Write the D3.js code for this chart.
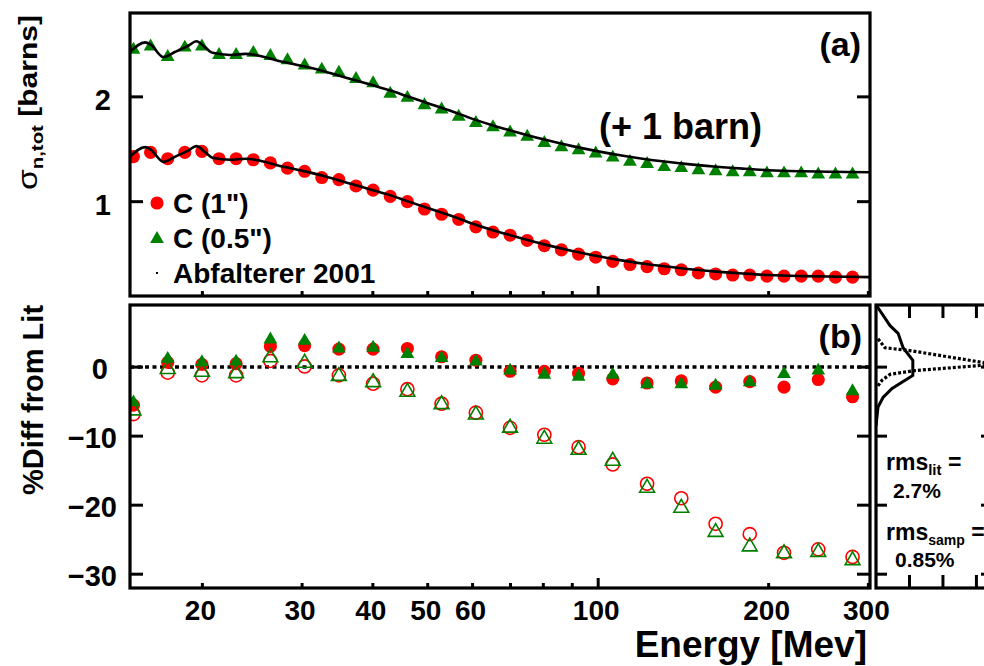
<!DOCTYPE html>
<html><head><meta charset="utf-8">
<script src="https://cdn.jsdelivr.net/npm/d3@7"></script>
<style>
body{margin:0;background:#fff}
svg{display:block}
text{font-family:"Liberation Sans",Arial,Helvetica,sans-serif;font-weight:bold;fill:#000}
</style>
</head><body>
<svg id="chart" width="984" height="666"></svg>
<script>
// ---------- DATA ----------
const energies = [15.11,16.20,17.37,18.62,19.96,21.40,22.94,24.60,26.37,28.27,30.31,32.50,34.84,37.35,40.04,42.93,46.03,49.34,52.90,56.72,60.81,65.19,69.89,74.93,80.33,86.12,92.33,98.99,106.1,113.8,122.0,130.8,140.2,150.3,161.2,172.8,185.2,198.6,212.9,228.3,244.7,262.4,281.3];
const sigmaC1 = [1.43,1.47,1.41,1.47,1.48,1.41,1.41,1.40,1.37,1.32,1.29,1.23,1.21,1.15,1.11,1.05,1.00,0.93,0.88,0.83,0.76,0.71,0.68,0.63,0.58,0.54,0.50,0.47,0.43,0.40,0.38,0.36,0.35,0.32,0.31,0.30,0.30,0.29,0.29,0.29,0.29,0.28,0.28];
const sigmaC05 = [1.45,1.48,1.38,1.47,1.48,1.40,1.40,1.42,1.39,1.35,1.30,1.26,1.23,1.17,1.13,1.03,0.99,0.92,0.88,0.81,0.75,0.71,0.66,0.62,0.56,0.52,0.49,0.46,0.42,0.38,0.36,0.33,0.32,0.30,0.29,0.28,0.28,0.27,0.27,0.27,0.26,0.26,0.26];
const offsetC05 = 1; // (+ 1 barn)
const litE = [14.9,15.86,16.19,17.07,17.92,18.91,19.51,20.25,20.83,22.40,23.82,25.32,27,30,33,36,40,43,46,50,55,60,65,70,80,90,100,110,125,140,160,180,200,230,260,302];
const litSigma = [1.43,1.52,1.50,1.38,1.43,1.49,1.53,1.47,1.42,1.40,1.41,1.39,1.35,1.295,1.24,1.18,1.11,1.06,1.005,0.94,0.865,0.79,0.73,0.68,0.595,0.53,0.48,0.44,0.395,0.365,0.335,0.315,0.30,0.29,0.285,0.28];

const diffE = [15.11,17.37,19.96,22.94,26.37,30.31,34.84,40.04,46.03,52.90,60.81,69.89,80.33,92.33,106.1,122.0,140.2,161.2,185.2,212.9,244.7,281.3];
const diffC1 = [-5.5,0.7,0.4,0.5,3.0,3.1,2.6,2.6,2.7,1.5,1.0,-0.6,-0.6,-0.9,-1.7,-2.3,-2.0,-2.9,-2.1,-2.9,-1.8,-4.3];
const diffC05 = [-5.1,1.2,0.7,0.8,4.0,3.8,2.7,2.8,1.9,1.3,0.8,-0.5,-1.1,-1.4,-1.1,-2.5,-2.5,-2.7,-2.2,-1.0,-0.5,-3.5];
const diffC1open = [-6.8,-0.8,-1.2,-1.2,0.9,0.1,-1.2,-2.4,-3.2,-5.3,-6.6,-8.8,-9.8,-11.6,-14.1,-16.9,-19.0,-22.7,-24.2,-26.9,-26.4,-27.5];
const diffC05open = [-6.3,-0.3,-0.7,-0.9,1.4,0.6,-1.3,-2.2,-3.6,-5.4,-6.9,-8.8,-10.4,-12.0,-13.6,-17.5,-20.4,-23.9,-26.0,-27.0,-26.8,-28.0];

const histLitPct = [9.0,8.6,6.0,4.9,2.8,1.0,-1.2,-1.9,-3.1,-4.4,-5.8,-8.5];
const histLitCount = [0.0,0.06,0.42,0.66,0.81,1.10,1.10,0.87,0.48,0.21,0.06,0.0];
const histSampPct = [4.1,2.8,2.4,0.7,0.45,0.25,-0.5,-1.05,-1.9,-2.9];
const histSampCount = [0.06,0.27,1.01,3.16,3.45,3.16,1.16,0.42,0.18,0.03];

const xTickLabels = [20,30,40,50,60,100,200,300];
const xMinorTicks = [20,30,40,50,60,70,80,90,200,300];
const xMajorTicks = [100];
const yTopTicks = [1,2];
const yBotTicks = [0,-10,-20,-30];
const histTicks = [1,2,3];

// ---------- LAYOUT ----------
const svg = d3.select("#chart");
const L = 130, R = 870;
const topP = {t:13, b:296};
const botP = {t:305, b:588};
const hist = {l:876, r:992};

const x = d3.scaleLog().domain([14.9, 302]).range([L, R]);
const yT = d3.scaleLinear().domain([0.1, 2.8]).range([topP.b, topP.t]);
const yB = d3.scaleLinear().domain([-32, 9]).range([botP.b, botP.t]);
const xH = d3.scaleLinear().domain([0, 3.465]).range([hist.l, hist.r]);

const red = "#ff0000", green = "#008000";

const defs = svg.append("defs");
defs.append("clipPath").attr("id","clipT").append("rect").attr("x",L).attr("y",topP.t).attr("width",R-L).attr("height",topP.b-topP.t);
defs.append("clipPath").attr("id","clipB").append("rect").attr("x",L).attr("y",botP.t).attr("width",R-L).attr("height",botP.b-botP.t);
defs.append("clipPath").attr("id","clipH").append("rect").attr("x",hist.l).attr("y",botP.t).attr("width",hist.r-hist.l).attr("height",botP.b-botP.t);

const circ = d3.symbol().type(d3.symbolCircle).size(135);
const tri = d3.symbol().type(d3.symbolTriangle).size(82);
const triOpen = d3.symbol().type(d3.symbolTriangle).size(95);

// ---------- TOP PANEL ----------
const gT = svg.append("g").attr("clip-path","url(#clipT)");
gT.selectAll(".c1").data(energies).join("path")
  .attr("d", circ).attr("fill", red)
  .attr("transform",(d,i)=>`translate(${x(d)},${yT(sigmaC1[i])})`);
gT.selectAll(".c05").data(energies).join("path")
  .attr("d", tri).attr("fill", green)
  .attr("transform",(d,i)=>`translate(${x(d)},${yT(sigmaC05[i]+offsetC05)})`);
const litLine = (off)=>d3.line().curve(d3.curveMonotoneX)
  .x((d,i)=>x(litE[i])).y((d,i)=>yT(litSigma[i]+off));
gT.append("path").attr("d", litLine(0)(litE)).attr("fill","none").attr("stroke","#000").attr("stroke-width",2.6);
gT.append("path").attr("d", litLine(offsetC05)(litE)).attr("fill","none").attr("stroke","#000").attr("stroke-width",2.6);

// axes top
const axT = svg.append("g");
axT.selectAll(".yt").data(yTopTicks).join("g").each(function(v){
  const g=d3.select(this);
  g.append("line").attr("x1",L).attr("x2",L+13).attr("y1",yT(v)).attr("y2",yT(v)).attr("stroke","#000").attr("stroke-width",3);
  g.append("line").attr("x1",R-13).attr("x2",R).attr("y1",yT(v)).attr("y2",yT(v)).attr("stroke","#000").attr("stroke-width",3);
  g.append("text").attr("x",111).attr("y",yT(v)+13).attr("text-anchor","end").style("font-size","29px").text(v);
});
function xTicksAt(g, yb){
  g.selectAll(".mn").data(xMinorTicks).join("line").attr("x1",d=>x(d)).attr("x2",d=>x(d))
    .attr("y1",yb-5).attr("y2",yb).attr("stroke","#000").attr("stroke-width",3);
  g.selectAll(".mj").data(xMajorTicks).join("line").attr("x1",d=>x(d)).attr("x2",d=>x(d))
    .attr("y1",yb-10).attr("y2",yb).attr("stroke","#000").attr("stroke-width",3);
}
xTicksAt(axT.append("g"), topP.b);
svg.append("rect").attr("x",L).attr("y",topP.t).attr("width",R-L).attr("height",topP.b-topP.t)
  .attr("fill","none").attr("stroke","#000").attr("stroke-width",3.2);

// legend
const lg = svg.append("g");
lg.append("path").attr("d",circ).attr("fill",red).attr("transform","translate(157,203)");
lg.append("path").attr("d",tri).attr("fill",green).attr("transform","translate(157,239)");
lg.append("rect").attr("x",156).attr("y",272).attr("width",2).attr("height",2).attr("fill","#000");
lg.append("text").attr("x",173).attr("y",213).style("font-size","28px").text('C (1")');
lg.append("text").attr("x",173).attr("y",248).style("font-size","28px").text('C (0.5")');
lg.append("text").attr("x",173).attr("y",283).style("font-size","28px").text('Abfalterer 2001');

svg.append("text").attr("x",861).attr("y",56).attr("text-anchor","end").style("font-size","34px").text("(a)");
svg.append("text").attr("x",599).attr("y",139).style("font-size","36px").text("(+ 1 barn)");

// y label top
const yl = svg.append("g").attr("transform","translate(37,190) rotate(-90) scale(1.2,1)");
const ylt = yl.append("text").attr("x",0).attr("y",0);
ylt.append("tspan").style("font-size","28px").style("font-weight","normal").text("σ");
ylt.append("tspan").style("font-size","17px").attr("dy",6).text("n,tot");
ylt.append("tspan").style("font-size","25px").attr("dy",-6).text(" [barns]");

// ---------- BOTTOM PANEL ----------
const gB = svg.append("g").attr("clip-path","url(#clipB)");
gB.append("line").attr("x1",L).attr("x2",R).attr("y1",yB(0)).attr("y2",yB(0))
  .attr("stroke","#000").attr("stroke-width",3.5).attr("stroke-dasharray","4,3.5");
gB.selectAll(".f1").data(diffE).join("path").attr("d",circ).attr("fill",red)
  .attr("transform",(d,i)=>`translate(${x(d)},${yB(diffC1[i])})`);
gB.selectAll(".f05").data(diffE).join("path").attr("d",tri).attr("fill",green)
  .attr("transform",(d,i)=>`translate(${x(d)},${yB(diffC05[i])})`);
gB.selectAll(".o1").data(diffE).join("path").attr("d",circ).attr("fill","none").attr("stroke",red).attr("stroke-width",1.6)
  .attr("transform",(d,i)=>`translate(${x(d)},${yB(diffC1open[i])})`);
gB.selectAll(".o05").data(diffE).join("path").attr("d",triOpen).attr("fill","none").attr("stroke",green).attr("stroke-width",1.6)
  .attr("transform",(d,i)=>`translate(${x(d)},${yB(diffC05open[i])})`);

const axB = svg.append("g");
axB.selectAll(".yb").data(yBotTicks).join("g").each(function(v){
  const g=d3.select(this);
  g.append("line").attr("x1",L).attr("x2",L+13).attr("y1",yB(v)).attr("y2",yB(v)).attr("stroke","#000").attr("stroke-width",3);
  g.append("line").attr("x1",R-13).attr("x2",R).attr("y1",yB(v)).attr("y2",yB(v)).attr("stroke","#000").attr("stroke-width",3);
  g.append("text").attr("x", v===0?108:117).attr("y",yB(v)+12).attr("text-anchor","end").style("font-size","29px")
    .text(v<0 ? "\u2212"+Math.abs(v) : v);
});
xTicksAt(axB.append("g"), botP.b);
axB.selectAll(".xl").data(xTickLabels).join("text").attr("x",d=>x(d)-2).attr("y",620)
  .attr("text-anchor","middle").style("font-size","28px").text(d=>d);
svg.append("rect").attr("x",L).attr("y",botP.t).attr("width",R-L).attr("height",botP.b-botP.t)
  .attr("fill","none").attr("stroke","#000").attr("stroke-width",3.2);
svg.append("text").attr("x",862).attr("y",348).attr("text-anchor","end").style("font-size","34px").text("(b)");

svg.append("text").attr("transform","translate(43,400) rotate(-90)").attr("text-anchor","middle")
  .style("font-size","29px").text("%Diff from Lit");
svg.append("text").attr("x",867).attr("y",657).attr("text-anchor","end").style("font-size","37px").text("Energy [Mev]");

// ---------- HISTOGRAM PANEL ----------
const gH = svg.append("g").attr("clip-path","url(#clipH)");
gH.append("path").attr("d", d3.line().x((d,i)=>xH(histLitCount[i])).y((d,i)=>yB(histLitPct[i]))(histLitPct))
  .attr("fill","none").attr("stroke","#000").attr("stroke-width",3);
gH.append("path").attr("d", d3.line().x((d,i)=>xH(histSampCount[i])).y((d,i)=>yB(histSampPct[i]))(histSampPct))
  .attr("fill","none").attr("stroke","#000").attr("stroke-width",3.2).attr("stroke-dasharray","3,2");
const axH = svg.append("g");
axH.selectAll(".ht").data(histTicks).join("g").each(function(v){
  const g=d3.select(this);
  g.append("line").attr("x1",xH(v)).attr("x2",xH(v)).attr("y1",botP.t).attr("y2",botP.t+13).attr("stroke","#000").attr("stroke-width",3);
  g.append("line").attr("x1",xH(v)).attr("x2",xH(v)).attr("y1",botP.b-13).attr("y2",botP.b).attr("stroke","#000").attr("stroke-width",3);
});
axH.selectAll(".hy").data(yBotTicks).join("g").each(function(v){
  const g=d3.select(this);
  g.append("line").attr("x1",hist.l).attr("x2",hist.l+11).attr("y1",yB(v)).attr("y2",yB(v)).attr("stroke","#000").attr("stroke-width",3);
  g.append("line").attr("x1",hist.r-11).attr("x2",hist.r).attr("y1",yB(v)).attr("y2",yB(v)).attr("stroke","#000").attr("stroke-width",3);
});
svg.append("rect").attr("x",hist.l).attr("y",botP.t).attr("width",hist.r-hist.l).attr("height",botP.b-botP.t)
  .attr("fill","none").attr("stroke","#000").attr("stroke-width",3.2);

const t1 = svg.append("text").attr("x",886).attr("y",470);
t1.append("tspan").style("font-size","23px").text("rms");
t1.append("tspan").style("font-size","15px").attr("dy",5).text("lit");
t1.append("tspan").style("font-size","23px").attr("dy",-5).text(" =");
svg.append("text").attr("x",893).attr("y",498).style("font-size","21px").text("2.7%");
const t2 = svg.append("text").attr("x",886).attr("y",540);
t2.append("tspan").style("font-size","23px").text("rms");
t2.append("tspan").style("font-size","14px").attr("dy",5).text("samp");
t2.append("tspan").style("font-size","23px").attr("dy",-5).text(" =");
svg.append("text").attr("x",895).attr("y",567).style("font-size","21px").text("0.85%");
</script>
</body></html>
